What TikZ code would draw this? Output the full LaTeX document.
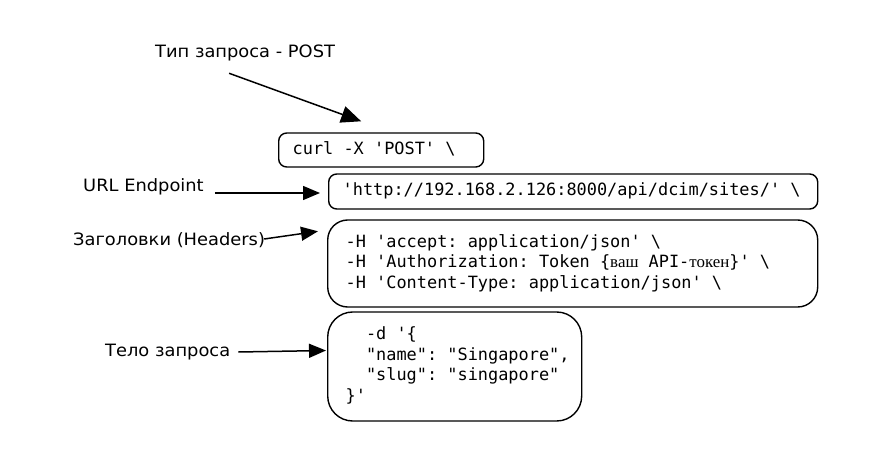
\documentclass[tikz,border=0pt]{standalone}
\usepackage{fontspec}
\setmainfont{DejaVu Sans}[FakeStretch=1.05]
\setmonofont{DejaVu Sans Mono}
\newfontfamily\ruserif{Liberation Serif}
\usetikzlibrary{arrows.meta,calc}
\newcommand{\codelines}[3]{\makebox[#1][l]{\hspace*{#2}\begin{tabular}{@{}l@{}}#3\end{tabular}}}
\begin{document}
\begin{tikzpicture}[x=1pt,y=-1pt,
  codebox/.style={draw, line width=1.4pt, anchor=west,
    inner xsep=0pt, inner ysep=0pt,
    font=\ttfamily\fontsize{16.9}{20.5}\selectfont},
  lbl/.style={anchor=west, inner sep=0pt, font=\fontsize{17}{20}\selectfont},
  arr/.style={line width=1.5pt, -{Triangle[length=17pt,width=14pt]}},
  bigarr/.style={line width=1.5pt, -{Triangle[length=20pt,width=17pt]}}]

\fill[white] (0,0) rectangle (876,449);
\useasboundingbox (0,0) rectangle (876,449);

% code boxes
\node[codebox, rounded corners=8pt, minimum height=34pt] (b1) at (278,150)
  {\codelines{205pt}{14pt}{curl -X 'POST' \textbackslash}};
\node[codebox, rounded corners=8pt, minimum height=35pt] (b2) at (328,191.5)
  {\codelines{489pt}{14pt}{'http://192.168.2.126:8000/api/dcim/sites/' \textbackslash}};
\node[codebox, rounded corners=20pt, minimum height=87pt] (b3) at (327,263.5)
  {\codelines{490pt}{18pt}{-H 'accept: application/json' \textbackslash\\
   -H 'Authorization: Token \{{\ruserif ваш} API-{\ruserif токен}\}' \textbackslash\\
   -H 'Content-Type: application/json' \textbackslash}};
\node[codebox, rounded corners=25pt, minimum height=109pt] (b4) at (327,366.5)
  {\codelines{254pt}{18pt}{\phantom{xx}-d '\{\\
   \phantom{xx}"name": "Singapore",\\
   \phantom{xx}"slug": "singapore"\\
   \}'}};

% labels
\node[lbl] (lpost) at (155,53) {Тип запроса - POST};
\node[lbl] (lurl) at (83,186.5) {URL Endpoint};
\node[lbl] (lhead) at (73,240) {Заголовки (Headers)};
\node[lbl] (lbody) at (105,352) {Тело запроса};

% connectors
\draw[bigarr] ($(lpost.south)+(-16,12)$) -- ($(b1.north)+(-20,-11)$);
\draw[arr] ($(lurl.east)+(11,6.5)$) -- ($(b2.west)+(-8,1.5)$);
\draw[arr] ($(lhead.east)+(-1,-1)$) -- ($(b3.north west)+(-9,12)$);
\draw[arr] ($(lbody.east)+(8,0)$) -- ($(b4.west)+(-1,-16)$);
\end{tikzpicture}
\end{document}
